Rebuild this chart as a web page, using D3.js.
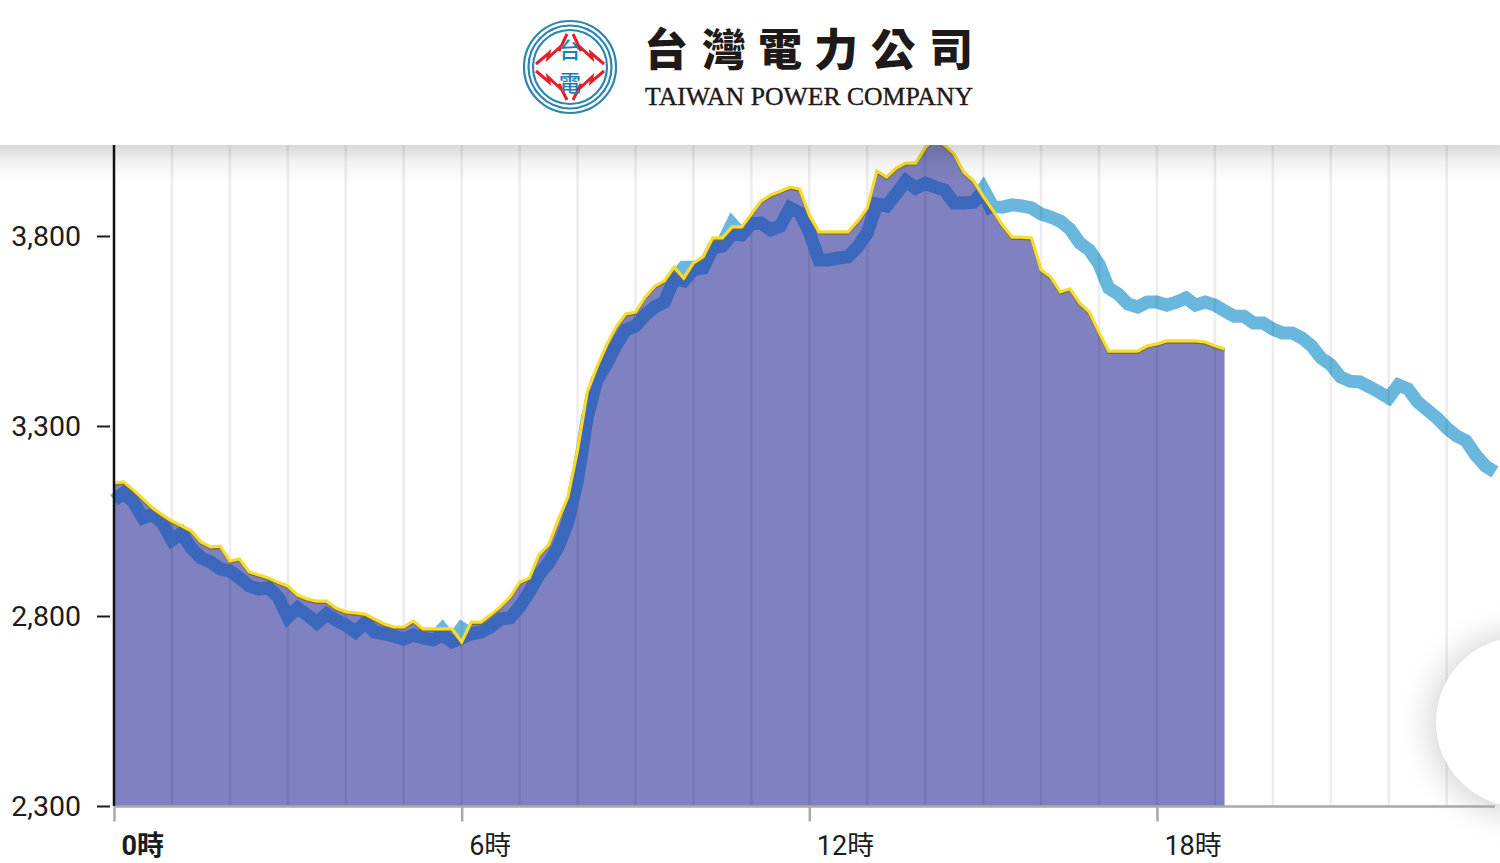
<!DOCTYPE html>
<html><head><meta charset="utf-8">
<script src="https://cdn.jsdelivr.net/npm/d3@7/dist/d3.min.js"></script>
<style>html,body{margin:0;padding:0;background:#fff;overflow:hidden}svg{display:block}</style>
</head><body><svg id="c" width="1500" height="863"></svg>
<script>
// one reading every 10 minutes, MW
const forecastLoad=[3105,3124,3100,3058,3068,3045,3000,3018,2979,2953,2942,2924,2918,2900,2879,2871,2874,2850,2797,2821,2803,2782,2805,2789,2776,2758,2782,2758,2753,2747,2739,2750,2742,2737,2765,2732,2768,2753,2758,2771,2792,2795,2824,2863,2908,2939,2982,3047,3158,3321,3421,3463,3513,3553,3563,3592,3613,3626,3687,3718,3718,3716,3768,3780,3832,3803,3832,3834,3816,3826,3874,3861,3811,3737,3737,3742,3745,3771,3808,3884,3879,3911,3945,3926,3939,3929,3921,3887,3887,3889,3925,3878,3876,3882,3879,3874,3858,3850,3839,3818,3782,3763,3726,3663,3647,3621,3613,3626,3626,3618,3626,3637,3618,3626,3618,3603,3589,3589,3571,3571,3555,3545,3545,3532,3511,3479,3461,3429,3418,3416,3403,3389,3374,3408,3397,3363,3342,3321,3295,3274,3261,3224,3195,3179];
const actualLoad=[3105,3124,3100,3058,3068,3045,3000,3018,2979,2953,2942,2924,2918,2900,2879,2871,2874,2850,2797,2821,2803,2782,2805,2789,2776,2758,2782,2758,2753,2747,2739,2750,2742,2737,2750,2732,2742,2753,2758,2771,2792,2795,2824,2863,2908,2939,2982,3047,3158,3321,3421,3463,3513,3553,3563,3592,3613,3626,3687,3682,3711,3716,3768,3774,3805,3803,3832,3834,3816,3826,3874,3861,3811,3737,3737,3742,3745,3771,3808,3884,3879,3911,3945,3926,3939,3929,3921,3887,3887,3889,3918,3861];
const supply=[3150,3153,3132,3108,3084,3066,3050,3037,3024,2995,2982,2984,2945,2950,2916,2908,2900,2889,2879,2855,2845,2839,2839,2821,2811,2808,2805,2792,2779,2771,2771,2787,2766,2766,2766,2766,2732,2784,2784,2803,2824,2850,2889,2900,2961,2987,3053,3113,3237,3389,3455,3513,3561,3595,3600,3639,3668,3682,3718,3689,3729,3745,3795,3795,3824,3824,3858,3892,3908,3918,3929,3924,3855,3811,3811,3811,3811,3839,3874,3971,3955,3979,3992,3992,4032,4058,4039,4016,3968,3945,3905,3868,3829,3797,3797,3795,3711,3692,3653,3661,3624,3600,3547,3497,3497,3497,3497,3511,3516,3524,3524,3524,3524,3521,3511,3503];
const hourGrid=d3.range(0,24);
const hourTicks=[0,6,12,18];
const yTicks=[2300,2800,3300,3800];

const svg=d3.select('#c');
const x=d3.scaleLinear().domain([0,24]).range([114,1504.6]);
const y=d3.scaleLinear().domain([2300,3800]).range([806,236]);
const tx=i=>x(i/6);
const fontLatin='Roboto,"Noto Sans CJK TC",sans-serif';

const lineGen=d3.line().x((d,i)=>tx(i)).y(d=>y(d)).curve(d3.curveLinear);
const areaGen=d3.area().x((d,i)=>tx(i)).y0(y(2300)).y1(d=>y(d)).curve(d3.curveLinear);

const defs=svg.append('defs');
const g=defs.append('linearGradient').attr('id','hs').attr('x1',0).attr('x2',0).attr('y1',0).attr('y2',1);
g.append('stop').attr('offset',0).attr('stop-color','#000').attr('stop-opacity',.15);
g.append('stop').attr('offset',.45).attr('stop-color','#000').attr('stop-opacity',.05);
g.append('stop').attr('offset',1).attr('stop-color','#000').attr('stop-opacity',0);
const bl=defs.append('filter').attr('id','fab').attr('x','-40%').attr('y','-40%').attr('width','180%').attr('height','180%');
bl.append('feGaussianBlur').attr('stdDeviation',16);
const soft=defs.append('filter').attr('id','soft');
soft.append('feGaussianBlur').attr('stdDeviation',.5);
defs.append('clipPath').attr('id','under').append('path').datum(supply).attr('d',areaGen);

const plot=svg.append('g').attr('filter','url(#soft)');

// forecast under everything
plot.append('path').datum(forecastLoad).attr('d',lineGen).attr('fill','none')
  .attr('stroke','#69b7dd').attr('stroke-width',13).attr('stroke-linejoin','miter').attr('stroke-miterlimit',3);
// supply area
plot.append('path').datum(supply).attr('d',areaGen).attr('fill','#7f81c0');
// hourly grid
plot.append('g').selectAll('line').data(hourGrid.slice(1)).join('line')
  .attr('x1',d=>x(d)).attr('x2',d=>x(d)).attr('y1',140).attr('y2',806)
  .attr('stroke','#000').attr('stroke-opacity',.07).attr('stroke-width',2.6);
// actual load, kept inside the supply area
plot.append('g').attr('clip-path','url(#under)').append('path').datum(actualLoad).attr('d',lineGen).attr('fill','none')
  .attr('stroke','#3b68bd').attr('stroke-width',13).attr('stroke-linejoin','miter').attr('stroke-miterlimit',4);
// supply outline
plot.append('path').datum(supply).attr('d',lineGen).attr('fill','none')
  .attr('stroke','#7d6a2a').attr('stroke-width',2.8).attr('transform','translate(0,1.4)');
plot.append('path').datum(supply).attr('d',lineGen).attr('fill','none')
  .attr('stroke','#f4dc35').attr('stroke-width',3.2);

// floating button
svg.append('circle').attr('cx',1521).attr('cy',724).attr('r',92).attr('fill','#000').attr('opacity',.16).attr('filter','url(#fab)');
svg.append('circle').attr('cx',1521).attr('cy',722).attr('r',85).attr('fill','#fff');

// axes
const xAxis=d3.axisBottom(x).tickValues(hourTicks).tickSize(15).tickPadding(10).tickFormat(d=>d+'時');
const gx=svg.append('g').attr('transform','translate(0,806.5)').call(xAxis);
gx.select('.domain').remove();
gx.append('line').attr('x1',114).attr('x2',1495).attr('stroke','#a8a8a8').attr('stroke-width',2.5);
gx.selectAll('.tick line').attr('stroke','#a8a8a8').attr('stroke-width',2.5);
gx.selectAll('.tick text').attr('text-anchor','start').attr('dx',7).attr('y',27.5).attr('dy','0.76em')
  .attr('fill','#1c1c1c').attr('font-family',fontLatin).attr('font-size',27)
  .attr('font-weight',d=>d===0?700:400);

const yAxis=d3.axisLeft(y).tickValues(yTicks).tickSize(0).tickPadding(33).tickFormat(d3.format(','));
const gy=svg.append('g').attr('transform','translate(114,0)').call(yAxis);
gy.select('.domain').remove();
gy.selectAll('.tick').append('line').attr('x1',-17).attr('x2',-4).attr('stroke','#1c1c1c').attr('stroke-width',2);
gy.selectAll('.tick text').attr('fill','#1c1c1c').attr('font-family',fontLatin).attr('font-size',28.5).attr('dy','0.33em');
svg.append('line').attr('x1',114).attr('x2',114).attr('y1',140).attr('y2',806).attr('stroke','#111').attr('stroke-width',2.5);

// header
svg.append('rect').attr('x',0).attr('y',145).attr('width',1500).attr('height',38).attr('fill','url(#hs)');
svg.append('rect').attr('x',0).attr('y',0).attr('width',1500).attr('height',145).attr('fill','#fff');

const logo=svg.append('g');
[46,41.5,37].forEach(r=>logo.append('circle').attr('cx',570).attr('cy',67).attr('r',r).attr('fill','none').attr('stroke','#2c86ad').attr('stroke-width',2.2));
const bolts=[[[536,64],[549,53],[548,58],[560,47],[559,51],[567,34]],
             [[604,64],[591,53],[592,58],[580,47],[581,51],[573,34]],
             [[536,71],[549,82],[548,77],[560,88],[559,84],[567,100]],
             [[604,71],[591,82],[592,77],[580,88],[581,84],[573,100]]];
logo.selectAll('path.b').data(bolts).join('path').attr('class','b')
  .attr('d',d=>d3.line()(d)).attr('fill','none').attr('stroke','#e2202a').attr('stroke-width',3).attr('stroke-linejoin','miter');
logo.append('text').text('台').attr('x',570).attr('y',58).attr('text-anchor','middle')
  .attr('font-family','"Noto Sans CJK TC"').attr('font-weight',500).attr('font-size',22).attr('fill','#1f80b0');
logo.append('text').text('電').attr('x',570).attr('y',91).attr('text-anchor','middle')
  .attr('font-family','"Noto Sans CJK TC"').attr('font-weight',500).attr('font-size',22).attr('fill','#1f80b0');

const titleChars=Array.from('台灣電力公司');
const titleX=[666,724,780,836,893,951];
logo.selectAll('text.t').data(titleChars).join('text').attr('class','t').text(d=>d)
  .attr('x',(d,i)=>titleX[i]).attr('y',66).attr('text-anchor','middle')
  .attr('font-family','"Noto Sans CJK TC"').attr('font-weight',900).attr('font-size',44).attr('fill','#1e1a19');
logo.append('text').text('TAIWAN POWER COMPANY').attr('x',645).attr('y',105)
  .attr('textLength',328).attr('lengthAdjust','spacingAndGlyphs')
  .attr('font-family','"Liberation Serif"').attr('font-size',25.5).attr('fill','#231815').attr('stroke','#231815').attr('stroke-width',.4);
</script></body></html>
